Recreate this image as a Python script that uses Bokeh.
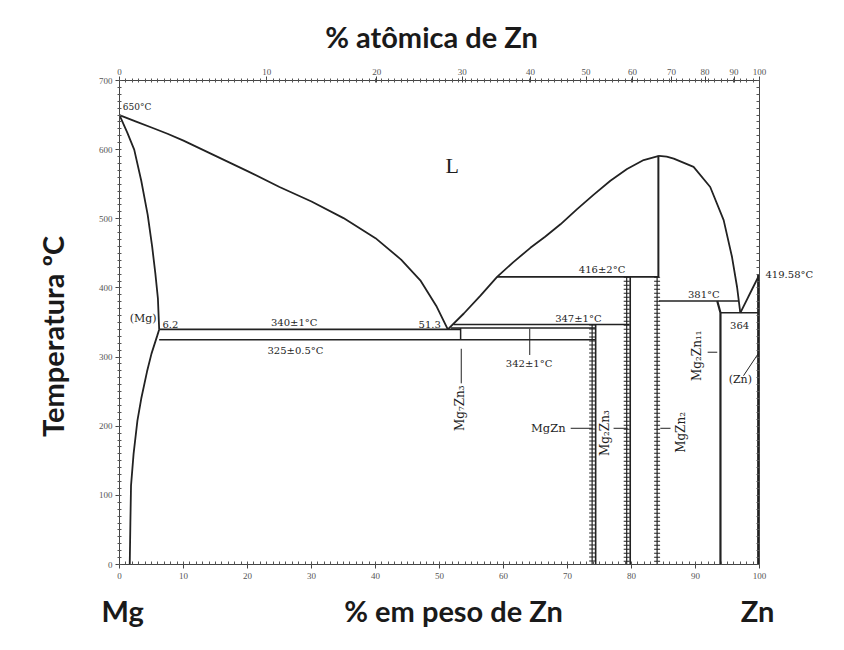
from bokeh.plotting import figure
from bokeh.models import LinearAxis, FixedTicker, Label, Range1d
from bokeh.embed import file_html
from bokeh.resources import INLINE

# ---- Mg-Zn phase diagram: composition in wt% Zn, temperature in °C ----

# liquidus, Mg side (650 °C -> eutectic 51.3 wt%, 340 °C)
liq_mg_wt = [0, 2.5, 5, 7.5, 10, 15, 20, 25, 30, 35, 40, 44, 47, 49.5, 51.3]
liq_mg_t = [650, 641, 632, 623, 613, 591, 569, 546, 525, 501, 472, 441, 411, 374, 340]

# (Mg) solidus
sol_mg_wt = [0, 1.2, 2.3, 3.4, 4.4, 5.1, 5.6, 6.0, 6.2]
sol_mg_t = [650, 625, 600, 555, 506, 460, 421, 385, 340]

# (Mg) solvus
solv_mg_wt = [6.2, 5.9, 5.0, 4.3, 3.4, 2.8, 2.2, 1.8, 1.7, 1.6]
solv_mg_t = [340, 331, 305, 279, 240, 208, 160, 114, 60, 0]

# liquidus from the eutectic up to the MgZn2 maximum
liq_mid_wt = [51.3, 53.8, 56.4, 59, 61.5, 64.2, 66.5, 68.9, 71.5, 74.1, 76.7, 79.3, 81.9, 84.3]
liq_mid_t = [340, 363, 389, 416, 437, 458, 474, 492, 514, 535, 555, 572, 585, 591]

# liquidus from MgZn2 down to the Zn-side eutectic
liq_zn_wt = [84.3, 85.5, 86.6, 89.7, 92.3, 94.4, 95.7, 96.5, 97.0]
liq_zn_t = [591, 590, 587, 575, 546, 498, 445, 401, 364]

# Zn liquidus, ending at the melting point of Zn
zn_melt = 419.58
liq_end_wt = [97.0, 100]
liq_end_t = [364, zn_melt]

# invariant isotherms: temperature, start and end composition
iso_t = [340, 325, 342, 347, 416, 381, 364]
iso_from = [6.2, 6.2, 51.8, 52.2, 59.0, 84.3, 93.9]
iso_to = [53.3, 74.3, 74.3, 79.7, 84.3, 96.8, 100]

# intermediate phases (composition, top temperature)
mg7zn3_wt, mg7zn3_top, mg7zn3_bot = 53.3, 342, 325
mgzn_wt, mgzn_top = 74.3, 347
mg2zn3_wt, mg2zn3_top = 79.7, 416
mgzn2_wt, mgzn2_top, mgzn2_peri = 84.2, 591, 416
mg2zn11_wt = [93.4, 93.9, 93.9]
mg2zn11_t = [381, 364, 0]
zn_solv_wt = [99.8, 99.8]
zn_solv_t = [zn_melt, 0]

# axis ticks
t_ticks = list(range(0, 701, 100))
wt_ticks = list(range(0, 101, 10))
at_ticks = list(range(0, 101, 10))
M_ZN, M_MG = 65.38, 24.305

INK = "#222222"

p = figure(width=844, height=650, output_backend="svg", toolbar_location=None,
           x_range=Range1d(0, 100), y_range=Range1d(0, 700),
           min_border_left=119, min_border_right=85,
           min_border_top=80, min_border_bottom=86,
           x_axis_location=None, y_axis_location=None)
p.outline_line_color = None
p.grid.visible = False
p.background_fill_color = "white"
p.border_fill_color = "white"

tick_font = dict(major_label_text_font="Liberation Serif",
                 major_label_text_font_size="9px",
                 major_label_text_color="#555555",
                 axis_line_color="#444444", major_tick_line_color="#444444",
                 minor_tick_line_color="#555555")

# bottom: weight percent
bottom = LinearAxis(ticker=FixedTicker(ticks=wt_ticks, minor_ticks=list(range(0, 101))),
                    major_tick_out=4, major_tick_in=0, minor_tick_in=3, minor_tick_out=0,
                    major_label_standoff=4, **tick_font)
p.add_layout(bottom, "below")

# left: temperature
left = LinearAxis(ticker=FixedTicker(ticks=t_ticks, minor_ticks=list(range(0, 701, 10))),
                  major_tick_out=4, major_tick_in=0, minor_tick_in=2, minor_tick_out=2,
                  major_label_standoff=3, **tick_font)
p.add_layout(left, "left")

# top: atomic percent, placed at the equivalent weight percent
at_pos = [round(100 * a * M_ZN / (a * M_ZN + (100 - a) * M_MG), 4) for a in at_ticks]
top = LinearAxis(ticker=FixedTicker(ticks=at_pos, minor_ticks=list(range(0, 101))),
                 major_tick_out=4, major_tick_in=2, minor_tick_in=2, minor_tick_out=2,
                 major_label_standoff=2,
                 major_label_overrides={pos: str(a) for pos, a in zip(at_pos, at_ticks)},
                 **tick_font)
p.add_layout(top, "above")

# right: plain frame with small inward ticks; carries the Zn melting point label
right = LinearAxis(ticker=FixedTicker(ticks=[zn_melt], minor_ticks=list(range(0, 701, 10))),
                   major_tick_in=0, major_tick_out=0, minor_tick_in=3, minor_tick_out=0,
                   major_label_standoff=6,
                   major_label_overrides={zn_melt: f"{zn_melt}°C"},
                   major_label_text_font="DejaVu Serif", major_label_text_font_size="10px",
                   major_label_text_color="#1e1e1e",
                   axis_line_color="#444444", minor_tick_line_color="#555555")
p.add_layout(right, "right")

# big axis titles, set as single tick labels on bare axes
BIG = dict(major_label_text_font="Lato", major_label_text_font_style="bold",
           major_label_text_font_size="29px", major_label_text_color="#1a1a1a",
           axis_line_color=None, major_tick_line_color=None, minor_tick_line_color=None)

bottom_titles = {0.5: "Mg", 52.2: "% em peso de Zn", 99.7: "Zn"}
p.add_layout(LinearAxis(ticker=FixedTicker(ticks=list(bottom_titles), minor_ticks=[]),
                        major_label_overrides=bottom_titles, major_label_standoff=5,
                        **BIG), "below")

top_titles = {48.75: "% atômica de Zn"}
p.add_layout(LinearAxis(ticker=FixedTicker(ticks=list(top_titles), minor_ticks=[]),
                        major_label_overrides=top_titles, major_label_standoff=6,
                        **BIG), "above")

left_titles = {330: "Temperatura ºC"}
p.add_layout(LinearAxis(ticker=FixedTicker(ticks=list(left_titles), minor_ticks=[]),
                        major_label_overrides=left_titles, major_label_standoff=19,
                        major_label_orientation="vertical", **BIG), "left")

# phase boundaries
for xs, ys in [(liq_mg_wt, liq_mg_t), (sol_mg_wt, sol_mg_t), (solv_mg_wt, solv_mg_t),
               (liq_mid_wt, liq_mid_t), (liq_zn_wt, liq_zn_t), (liq_end_wt, liq_end_t)]:
    p.line(xs, ys, line_color=INK, line_width=1.8)

for t, a, b in zip(iso_t, iso_from, iso_to):
    p.line([a, b], [t, t], line_color=INK, line_width=1.6)


def hatched(x, t0, t1):
    """Compound line drawn as a ladder of short bars."""
    p.line([x, x], [t0, t1], line_color=INK, line_width=6, line_dash="1 3")
    p.line([x, x], [t0, t1], line_color=INK, line_width=1.2)


p.line([mg7zn3_wt, mg7zn3_wt], [mg7zn3_top, mg7zn3_bot], line_color=INK, line_width=1.5)
hatched(mgzn_wt - 0.45, mgzn_top, 0)
p.line([mgzn_wt + 0.1, mgzn_wt + 0.1], [mgzn_top, 0], line_color=INK, line_width=1.6)
hatched(mg2zn3_wt - 0.45, mg2zn3_top, 0)
p.line([mg2zn3_wt + 0.1, mg2zn3_wt + 0.1], [mg2zn3_top, 0], line_color=INK, line_width=1.6)
p.line([mgzn2_wt, mgzn2_wt], [mgzn2_top, mgzn2_peri], line_color=INK, line_width=2)
hatched(mgzn2_wt - 0.2, mgzn2_peri, 0)
p.line(mg2zn11_wt, mg2zn11_t, line_color=INK, line_width=2.2)
p.line(zn_solv_wt, zn_solv_t, line_color=INK, line_width=2.2)

# leader lines for the phase labels
leaders = [([53.4, 53.4], [312, 262]),
           ([70.5, 73.9], [197, 197]),
           ([77.2, 79.4], [197, 197]),
           ([84.5, 86.1], [197, 197]),
           ([91.9, 93.4], [307, 307]),
           ([97.5, 99.8], [273, 305]),
           ([64.1, 64.1], [341, 303])]
for xs, ys in leaders:
    p.line(xs, ys, line_color=INK, line_width=1)

SMALL = dict(text_font="DejaVu Serif", text_font_size="10px", text_color="#1e1e1e")


def note(text, x, y, align="left", baseline="bottom", angle=0.0, **kw):
    style = dict(SMALL)
    style.update(kw)
    p.add_layout(Label(x=x, y=y, text=text, text_align=align, text_baseline=baseline,
                       angle=angle, **style))


note("650°C", 0.5, 655, text_font_size="9px")
note("L", 52, 577, align="center", baseline="middle", text_font="Liberation Serif",
     text_font_size="22px")
note("(Mg)", 3.7, 356, align="center", baseline="middle", text_font_size="11px")
note("6.2", 6.7, 342)
note("340±1°C", 27.3, 342, align="center")
note("325±0.5°C", 27.5, 309, align="center", baseline="middle")
note("51.3", 50.2, 342, align="right")
note("347±1°C", 71.7, 348, align="center")
note("342±1°C", 64.0, 290, align="center", baseline="middle")
note("416±2°C", 75.4, 418, align="center")
note("381°C", 91.3, 383, align="center")
note("364", 96.9, 345, align="center", baseline="middle")
note("(Zn)", 97.0, 268, align="center", baseline="middle", text_font_size="11px")
note("MgZn", 67.0, 197, align="center", baseline="middle", text_font_size="11.5px")
note("Mg₇Zn₃", 53.2, 226, align="center", baseline="middle", angle=1.5708,
     text_font_size="12px")
note("Mg₂Zn₃", 75.9, 190, align="center", baseline="middle", angle=1.5708,
     text_font_size="12px")
note("MgZn₂", 87.8, 191, align="center", baseline="middle", angle=1.5708,
     text_font_size="12px")
note("Mg₂Zn₁₁", 90.3, 302, align="center", baseline="middle", angle=1.5708,
     text_font_size="12px")

open("out.html", "w").write(file_html(p, INLINE))
